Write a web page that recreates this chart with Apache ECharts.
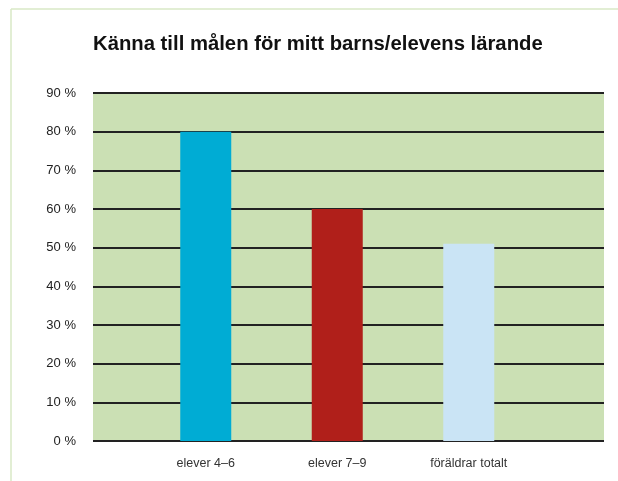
<!DOCTYPE html>
<html><head><meta charset="utf-8">
<script src="https://cdn.jsdelivr.net/npm/echarts@6/dist/echarts.min.js"></script>
<style>html,body{margin:0;padding:0;background:#fff}#c{width:618px;height:481px}</style>
</head><body><div id="c"></div>
<script>
const titleText = 'Känna till målen för mitt barns/elevens lärande';
const categories = ['elever 4–6', 'elever 7–9', 'föräldrar totalt'];
const values = [80, 60, 51];
const barColors = ['#00acd4', '#b01f1a', '#cae4f5'];
const yTicks = [0, 90, 10];

const chart = echarts.init(document.getElementById('c'));
chart.setOption({
  animation: false,
  backgroundColor: '#fff',
  title: {
    text: titleText, left: 93, top: 34, padding: 0,
    textStyle: { fontFamily: 'Liberation Sans, Arial, sans-serif', fontSize: 20.3, fontWeight: 'bold', color: '#111' }
  },
  graphic: [
    { type: 'line', shape: { x1: 11, y1: 9, x2: 618, y2: 9 }, style: { stroke: '#d8e8c6', lineWidth: 1.5 } },
    { type: 'line', shape: { x1: 11, y1: 9, x2: 11, y2: 481 }, style: { stroke: '#d8e8c6', lineWidth: 1.5 } }
  ],
  grid: [
    { left: 93, right: 14, top: 93, bottom: 40, show: true, backgroundColor: '#cbe0b4', borderWidth: 0 },
    { left: 140, width: 394.5, top: 93, bottom: 40 }
  ],
  xAxis: [
    { gridIndex: 0, type: 'category', data: [''], show: false },
    { gridIndex: 1, type: 'category', data: categories,
      axisLine: { show: false }, axisTick: { show: false },
      axisLabel: { margin: 16, fontFamily: 'Liberation Sans, Arial, sans-serif', fontSize: 12.5, color: '#333' } }
  ],
  yAxis: [
    { gridIndex: 0, type: 'value', min: yTicks[0], max: yTicks[1], interval: yTicks[2],
      axisLine: { show: false }, axisTick: { show: false },
      splitLine: { show: true, lineStyle: { color: '#222', width: 2 } },
      axisLabel: { formatter: '{value} %', margin: 17, fontFamily: 'Liberation Sans, Arial, sans-serif', fontSize: 13, color: '#222' } },
    { gridIndex: 1, type: 'value', min: yTicks[0], max: yTicks[1], interval: yTicks[2], show: false, splitLine: { show: false } }
  ],
  series: [{
    type: 'bar', xAxisIndex: 1, yAxisIndex: 1, barWidth: 51, z: 5,
    data: values.map((v, i) => ({ value: v, itemStyle: { color: barColors[i] } }))
  }]
});
</script></body></html>
